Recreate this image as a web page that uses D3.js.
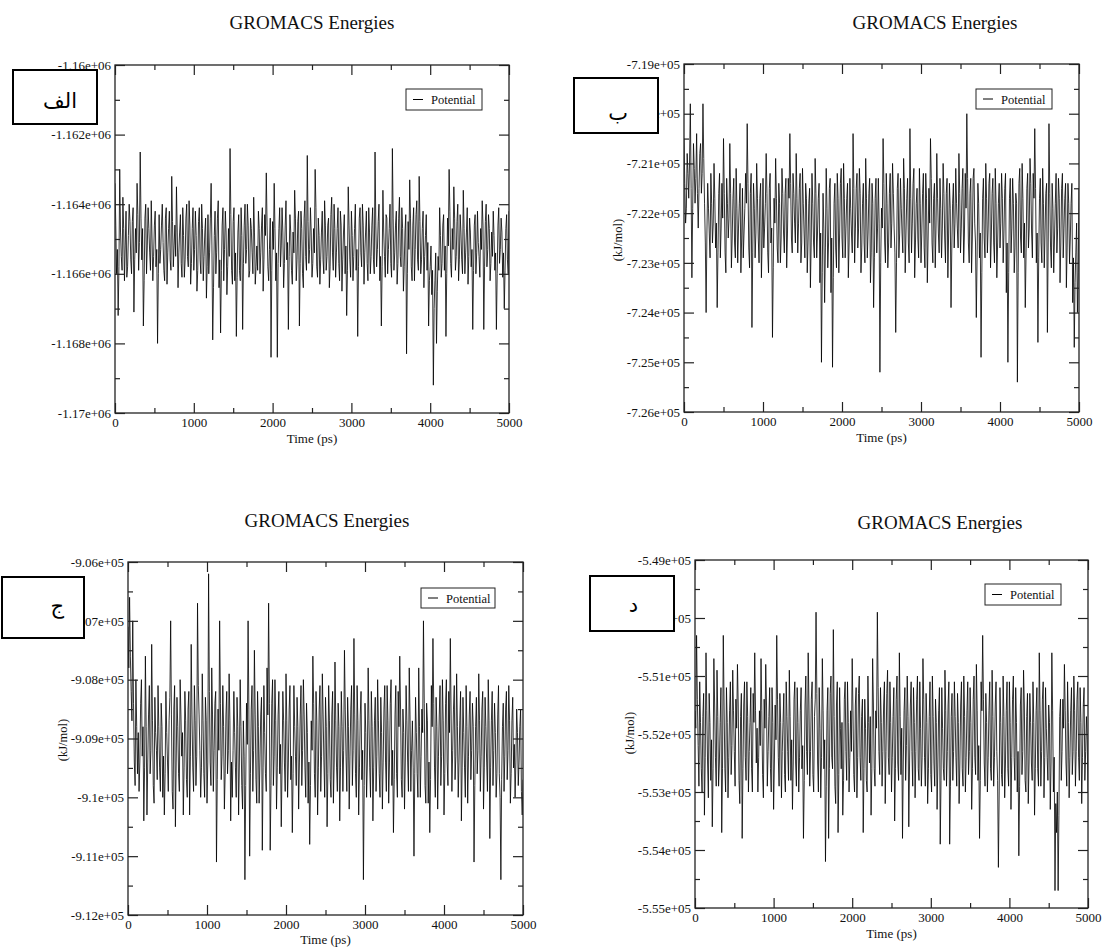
<!DOCTYPE html>
<html><head><meta charset="utf-8">
<script src="https://cdn.jsdelivr.net/npm/d3@7"></script>
<style>body{margin:0;background:#fff}svg{display:block}
text{font-family:"Liberation Serif","Times New Roman",serif}
text.tag{font-family:"DejaVu Sans","Noto Sans",sans-serif}
</style>
</head><body>
<svg id="c" width="1102" height="947"></svg>
<script>
// ---------- data ----------
const timeStepPs = 10;
const timeTicks = [0, 1000, 2000, 3000, 4000, 5000];
const timeMinorTicks = [500, 1500, 2500, 3500, 4500];

const potentialA = [
-1163400,-1164600,-1166000,-1165300,-1167200,-1165800,-1163000,-1164800,-1165500,-1165900,-1163800,-1164700,-1166200,-1165200,-1164200,-1166100,-1165800,-1164900,-1164000,-1164500,
-1165600,-1166000,-1164500,-1164100,-1167100,-1165600,-1164700,-1165400,-1163400,-1164300,-1165900,-1165100,-1162500,-1164400,-1165600,-1164700,-1167500,-1166200,-1164400,-1164000,
-1166000,-1165200,-1164100,-1164700,-1165400,-1165900,-1163900,-1165000,-1166200,-1165500,-1164600,-1164200,-1165800,-1165300,-1168000,-1166000,-1164300,-1165700,-1165300,-1164600,
-1164000,-1165100,-1165900,-1166200,-1164400,-1164100,-1166300,-1165400,-1164700,-1164200,-1165600,-1165900,-1163200,-1164500,-1165800,-1165200,-1164600,-1165500,-1163500,-1164800,
-1166400,-1165400,-1164800,-1164300,-1165700,-1166100,-1164100,-1164900,-1166100,-1165600,-1164400,-1164000,-1165500,-1165800,-1163900,-1164600,-1166300,-1165700,-1164700,-1164100,
-1165900,-1165300,-1164200,-1164900,-1166500,-1165900,-1164500,-1164100,-1165600,-1166000,-1164000,-1164700,-1166200,-1165500,-1164800,-1164400,-1166700,-1165800,-1164300,-1166000,
-1165400,-1164400,-1163400,-1165200,-1167900,-1166400,-1164900,-1164200,-1166000,-1165400,-1164400,-1163900,-1166400,-1165600,-1167700,-1165900,-1164600,-1164100,-1166200,-1165300,
-1164200,-1164800,-1166600,-1165800,-1164700,-1165500,-1162400,-1164300,-1165900,-1166300,-1164500,-1164100,-1166200,-1165400,-1167800,-1166100,-1164800,-1164300,-1165900,-1166200,
-1164100,-1164900,-1167600,-1165700,-1164600,-1164000,-1165700,-1165300,-1164000,-1164600,-1166100,-1165900,-1164400,-1164700,-1165400,-1166000,-1163800,-1164800,-1166300,-1165800,
-1165200,-1165900,-1164200,-1164700,-1166000,-1165400,-1164600,-1164100,-1166500,-1165600,-1164300,-1164900,-1163100,-1164600,-1165800,-1166200,-1165300,-1164400,-1168400,-1165900,
-1164500,-1165300,-1163400,-1164700,-1166200,-1165400,-1168400,-1165700,-1164700,-1164100,-1165800,-1165200,-1164100,-1164800,-1166400,-1165700,-1164600,-1163900,-1165600,-1165100,
-1167600,-1165500,-1164300,-1164800,-1165900,-1166300,-1164800,-1165400,-1163600,-1164400,-1166200,-1165600,-1164500,-1164200,-1167500,-1165700,-1164200,-1164700,-1166000,-1166400,
-1164400,-1163900,-1165500,-1165900,-1162600,-1164500,-1165700,-1165300,-1164100,-1164800,-1166100,-1165700,-1164700,-1165400,-1163000,-1164100,-1165800,-1166100,-1164400,-1164900,
-1166300,-1165600,-1164800,-1164200,-1165600,-1166000,-1163900,-1164600,-1165900,-1165500,-1164600,-1164400,-1166400,-1165800,-1164300,-1163800,-1165400,-1165900,-1164000,-1164700,
-1166100,-1165400,-1164700,-1164100,-1165700,-1166200,-1164200,-1164600,-1166500,-1165600,-1164800,-1164300,-1166000,-1165200,-1167200,-1165900,-1163500,-1164600,-1165600,-1166100,
-1164200,-1164900,-1166200,-1165500,-1164700,-1164000,-1165900,-1165300,-1167800,-1165800,-1164400,-1164100,-1165400,-1165800,-1164000,-1164600,-1166300,-1165400,-1164800,-1164200,
-1165700,-1166200,-1164100,-1164800,-1166000,-1165500,-1164600,-1164100,-1165600,-1166000,-1162500,-1164600,-1165800,-1165300,-1164500,-1164000,-1166200,-1165500,-1167500,-1165800,
-1163600,-1164800,-1165500,-1166100,-1164300,-1164400,-1166000,-1165300,-1164700,-1164000,-1165700,-1166100,-1162400,-1164400,-1165900,-1165400,-1164600,-1164200,-1166300,-1165700,
-1164400,-1163800,-1165500,-1165800,-1164100,-1164700,-1166500,-1165800,-1164800,-1164300,-1168300,-1166000,-1164500,-1165300,-1163300,-1164400,-1165800,-1166200,-1164600,-1164100,
-1166200,-1165300,-1164300,-1163900,-1165600,-1165900,-1163200,-1164500,-1166000,-1165600,-1164700,-1164200,-1166400,-1165500,-1164900,-1164300,-1165900,-1165100,-1167500,-1166200,
-1165800,-1165200,-1166600,-1165900,-1169200,-1167000,-1166200,-1165400,-1168000,-1166500,-1165500,-1165900,-1164100,-1164900,-1166100,-1165700,-1164600,-1164300,-1165900,-1165200,
-1167800,-1166000,-1164400,-1165200,-1163000,-1164200,-1165700,-1166100,-1164700,-1165300,-1163500,-1164400,-1165900,-1165500,-1164500,-1164000,-1166200,-1165600,-1164300,-1164800,
-1165600,-1166000,-1163600,-1164700,-1166000,-1165400,-1164800,-1164100,-1166300,-1165500,-1164400,-1164800,-1165800,-1165300,-1167600,-1165900,-1164600,-1164300,-1166000,-1165400,
-1164200,-1165100,-1165500,-1166100,-1164700,-1165300,-1163900,-1164600,-1167600,-1165800,-1164500,-1164000,-1165800,-1165300,-1164300,-1164700,-1166200,-1165700,-1164800,-1165500,
-1164200,-1164900,-1165900,-1165400,-1167600,-1166000,-1164600,-1164100,-1165700,-1165300,-1164400,-1164800,-1166100,-1165400,-1167000,-1165900,-1164700,-1164300,-1165600,-1166000,-1164200
];

const potentialB = [
-720500,-721400,-722200,-721900,-720800,-721200,-721700,-721000,-719800,-721500,-723300,-721900,-720600,-721100,-721800,-721300,-720400,-721600,-722300,-721500,
-720800,-720600,-721600,-721200,-719800,-720900,-721800,-722600,-724000,-722400,-721400,-721900,-722400,-722900,-721200,-721800,-722600,-722200,-721000,-721700,
-722700,-722200,-723900,-722800,-721600,-721200,-722900,-722300,-721400,-722100,-720500,-721600,-722800,-723200,-721300,-721800,-722500,-722100,-720600,-721600,
-723100,-722500,-721700,-721300,-722600,-722900,-721100,-721900,-723000,-722300,-721800,-721400,-723200,-722500,-721500,-722900,-722400,-721900,-721200,-721800,
-720200,-721400,-722700,-723100,-721600,-721200,-724300,-722800,-721400,-721900,-722900,-722400,-721000,-721700,-722500,-723000,-721700,-721400,-723300,-722500,
-721300,-722700,-722300,-721800,-720800,-721600,-722800,-723200,-721500,-721200,-722600,-722300,-724500,-723100,-721700,-722200,-720900,-721700,-722700,-723000,
-721400,-721800,-723000,-722500,-721100,-721600,-722400,-722800,-721600,-721300,-723100,-722400,-721300,-721700,-720400,-721400,-722500,-722800,-721200,-721600,
-722200,-722600,-720800,-721700,-722800,-722200,-721500,-721200,-723000,-722600,-721100,-721800,-722400,-722900,-721400,-721700,-723200,-722600,-721800,-721500,
-723500,-722600,-721200,-721800,-722600,-722900,-720900,-721600,-722900,-722400,-721700,-721400,-723400,-722400,-725000,-723200,-721600,-722300,-723800,-722700,
-721100,-721900,-723100,-722600,-721500,-721300,-723600,-722500,-725100,-723300,-721800,-721400,-722700,-723100,-721200,-721700,-723200,-722400,-721400,-721100,
-722500,-722900,-721000,-721700,-722900,-722300,-721700,-721400,-723300,-722600,-721300,-721900,-722400,-722800,-720400,-721500,-723000,-722300,-721500,-721200,
-722700,-722300,-721100,-721600,-723200,-722700,-721800,-721400,-722600,-723000,-720900,-721700,-722900,-722400,-721600,-721300,-723400,-722800,-721400,-721800,
-723900,-722900,-721700,-721300,-722800,-722300,-721300,-722200,-725200,-723000,-721900,-722300,-720500,-721400,-722600,-723000,-721200,-721800,-723100,-722600,
-721600,-721200,-722700,-722200,-721000,-721600,-722300,-722800,-724400,-723000,-721500,-721200,-722900,-722400,-721300,-721900,-722400,-722800,-720900,-721500,
-723200,-722400,-721700,-721300,-722600,-723000,-720300,-721700,-722800,-722200,-721400,-721100,-723300,-722600,-721800,-721500,-722500,-722900,-721100,-721800,
-723000,-722400,-721600,-721200,-722700,-723100,-721200,-721700,-723400,-722500,-721500,-722200,-720500,-721300,-722600,-723000,-721700,-721400,-723100,-722300,
-720800,-721700,-722400,-722800,-721300,-721900,-722900,-722300,-721000,-721600,-722500,-723000,-721600,-721300,-723300,-722400,-721400,-721900,-723900,-722700,
-721800,-721400,-722700,-722200,-721100,-721800,-722300,-722700,-720800,-721600,-722800,-722300,-721500,-721100,-723000,-722400,-721200,-721900,-720000,-721300,
-722600,-723000,-721600,-721300,-723200,-722500,-721300,-721100,-722200,-722600,-724100,-722900,-721400,-721800,-722900,-722400,-724900,-723200,-721700,-721300,
-722500,-722900,-721000,-721700,-722800,-722300,-721400,-721200,-723100,-722500,-721600,-721300,-722600,-723000,-721100,-721800,-723300,-722600,-721800,-721400,
-722700,-722200,-721200,-721700,-723000,-722400,-721500,-721200,-723600,-722600,-725000,-723200,-721700,-721300,-722800,-722300,-721300,-721800,-723200,-722700,
-721600,-721800,-725400,-723200,-721400,-721100,-722500,-722800,-721000,-721700,-722900,-722200,-723900,-722800,-721500,-721200,-722700,-722300,-720900,-721400,
-722400,-722900,-721200,-721700,-720300,-721500,-723000,-722400,-724600,-722900,-721700,-721300,-722600,-723000,-721100,-721800,-723100,-722400,-721600,-721400,
-724400,-722600,-720200,-721600,-722700,-723100,-721400,-721900,-723200,-722500,-721800,-721200,-722800,-722300,-721300,-721700,-723400,-722600,-721500,-721200,
-722900,-722300,-721700,-721400,-723500,-722700,-721400,-721800,-723000,-722500,-721800,-721400,-723800,-722900,-724700,-723400,-722800,-722200,-724000,-723200,-721500
];

const potentialC = [
-907100,-907800,-906600,-907600,-908200,-908700,-907000,-908400,-909400,-909800,-908000,-908800,-909600,-908900,-909900,-909400,-908400,-908000,-909300,-908800,
-910400,-909500,-907600,-908800,-910300,-909400,-908600,-908100,-909600,-909200,-907400,-908700,-909800,-910100,-908300,-908900,-909200,-909700,-908100,-908800,
-909500,-909900,-908400,-908800,-910000,-909300,-910300,-909600,-908200,-908900,-909400,-909900,-908700,-908300,-907000,-908600,-909900,-910200,-908500,-908100,
-910500,-909400,-908300,-908800,-909600,-909900,-908000,-908600,-909300,-908900,-910300,-909500,-908200,-908700,-909700,-910000,-908500,-908200,-910300,-909300,
-907400,-908600,-909500,-909900,-908100,-908700,-909800,-909300,-906700,-908100,-908600,-909200,-910000,-909500,-907900,-908700,-909600,-910000,-908300,-908700,
-910100,-909400,-906200,-908200,-909400,-909800,-907800,-908600,-909900,-909200,-908400,-908200,-911100,-909700,-908500,-909200,-907000,-908400,-909700,-909300,
-908100,-908800,-910200,-909600,-908600,-908200,-909600,-909200,-907900,-908700,-910400,-909400,-910000,-909200,-908200,-908900,-909500,-910000,-908300,-908800,
-910300,-909400,-908000,-908800,-909800,-910200,-908700,-909300,-911400,-909800,-908400,-909100,-907000,-908500,-911000,-909600,-908500,-908100,-909900,-909200,
-907500,-908600,-909700,-910100,-908200,-908800,-910100,-909400,-908600,-908300,-910900,-909500,-908100,-908900,-909600,-909900,-907800,-908600,-906700,-908400,
-910900,-909800,-908400,-908000,-909800,-909300,-908000,-908700,-910200,-909500,-908600,-908200,-909600,-909100,-910500,-909500,-908200,-908700,-909400,-909900,
-907900,-908700,-910000,-909400,-908500,-908100,-909700,-909300,-910600,-909600,-908100,-908800,-909300,-909800,-908300,-908800,-910200,-909400,-908600,-908100,
-909800,-909200,-908000,-908600,-909500,-910000,-908400,-908900,-910100,-909400,-910800,-909800,-908700,-909200,-907600,-908400,-909600,-910000,-908200,-908700,
-910300,-909500,-908500,-908100,-909900,-909300,-907900,-908600,-909400,-910000,-908300,-908800,-910500,-909600,-908100,-908700,-909700,-910000,-908600,-908200,
-910100,-909400,-907700,-908700,-909500,-909900,-908400,-908800,-910400,-909500,-908200,-908800,-909900,-909200,-907500,-908500,-909300,-909900,-908300,-908800,
-910200,-909300,-908500,-908100,-909800,-909200,-907300,-908600,-909600,-910000,-908100,-908700,-910300,-909500,-908600,-908200,-909700,-909200,-911400,-909800,
-908400,-908900,-910000,-909400,-907800,-908700,-909500,-910000,-908200,-908800,-910400,-909500,-908700,-908300,-909900,-909300,-908000,-908700,-909600,-910000,
-908300,-908900,-910200,-909400,-908500,-908100,-909400,-909900,-908100,-908700,-910100,-909400,-908400,-908000,-909800,-909200,-910600,-909700,-908600,-908100,
-909600,-910000,-908200,-908800,-907600,-908500,-909700,-910000,-908500,-908900,-910200,-909400,-908100,-908700,-909400,-909900,-907800,-908600,-909900,-909200,
-908700,-909500,-911000,-909600,-908300,-908900,-909600,-910000,-907800,-908800,-910000,-909300,-908500,-908900,-907000,-908400,-909800,-910100,-908400,-908700,
-910100,-909400,-910600,-909700,-908100,-908800,-907300,-908400,-909500,-910000,-908300,-908800,-910200,-909300,-908600,-908100,-909800,-909300,-908000,-908700,
-910300,-909600,-908400,-908000,-909400,-909800,-908200,-908900,-907300,-908600,-909900,-909200,-908500,-908100,-909700,-909300,-907900,-908800,-910000,-909400,
-908700,-908200,-910400,-909500,-908300,-908900,-909500,-910000,-908100,-908800,-910100,-909300,-908600,-908200,-909700,-909200,-908400,-908800,-911100,-909800,
-908800,-908300,-909600,-909200,-907900,-908700,-909900,-909300,-908500,-908200,-910200,-909500,-908300,-908800,-909400,-909900,-908000,-908700,-910700,-909500,
-908700,-908200,-909800,-909200,-908400,-908900,-910000,-909600,-908600,-908100,-909600,-910000,-911400,-909700,-908800,-908400,-909900,-909300,-908500,-908200,
-909700,-909200,-908100,-908700,-910100,-909600,-908700,-908300,-909500,-909100,-910000,-909400,-908500,-908900,-909800,-909400,-908800,-908500,-909900,-910300,-909700
];

const potentialD = [
-551600,-551900,-550300,-551400,-552200,-552900,-551100,-551800,-552600,-553000,-551700,-551300,-553400,-552400,-550600,-551600,-552500,-553100,-551300,-551800,
-552800,-552100,-553600,-552600,-550700,-551500,-552400,-552900,-550900,-551700,-552900,-552500,-551800,-551200,-553700,-552600,-550300,-551500,-552600,-553000,
-551200,-551800,-553100,-552400,-551600,-551100,-552700,-552200,-550900,-551600,-552300,-552900,-551400,-551900,-550800,-551500,-552800,-553200,-551700,-551300,
-553800,-552600,-551500,-551100,-552400,-552800,-551100,-551700,-553000,-552300,-551800,-551200,-552600,-553000,-551300,-551800,-550600,-551600,-552500,-551900,
-553000,-552400,-551600,-552200,-550700,-551600,-552700,-553100,-551400,-551900,-550800,-551500,-552900,-552300,-551700,-551200,-552600,-553000,-551200,-551800,
-553300,-552500,-551500,-552100,-550300,-551400,-552400,-552900,-551300,-551800,-553100,-552300,-551800,-551300,-552700,-553000,-551100,-551700,-552300,-552800,
-550900,-551700,-552800,-552100,-553300,-552500,-551400,-551100,-552500,-552900,-551200,-551800,-553000,-552400,-551600,-551200,-552600,-552200,-553800,-552800,
-551500,-551000,-552300,-552700,-550600,-551500,-552900,-552300,-551400,-551100,-552700,-553000,-551700,-551400,-549900,-551300,-552500,-553000,-551200,-551900,
-553100,-552400,-550700,-551600,-552600,-552100,-554200,-552900,-551600,-551200,-553800,-552600,-551300,-551000,-552400,-552600,-550200,-551700,-552900,-553200,
-551500,-551100,-553700,-552700,-551200,-551900,-552600,-551800,-553400,-552800,-551400,-551100,-552300,-552800,-551100,-551800,-553000,-552400,-551600,-552300,
-550700,-551600,-552700,-553000,-551500,-551200,-553100,-552400,-551300,-551000,-552400,-552800,-551700,-551400,-553700,-552600,-551400,-551900,-552800,-553000,
-551000,-551800,-552500,-551700,-553400,-552600,-550700,-551500,-552600,-552900,-551600,-551900,-549900,-551200,-552300,-552700,-551200,-551800,-552900,-552300,
-551500,-551100,-553200,-552300,-551300,-550900,-552400,-552700,-551100,-551800,-553000,-552400,-551700,-551200,-553500,-552600,-551400,-551000,-552500,-552800,
-550600,-551700,-552700,-551900,-553800,-552500,-551600,-551200,-552800,-552200,-551000,-551700,-553600,-552500,-551500,-551100,-552300,-552900,-551200,-551800,
-553100,-552300,-551400,-551000,-552600,-552800,-551100,-551900,-552900,-552400,-550700,-551400,-552400,-552900,-551300,-551800,-553200,-552600,-551700,-551100,
-552700,-553000,-551000,-551700,-552500,-552900,-551400,-551800,-553300,-552500,-551600,-551200,-553900,-552800,-551200,-551900,-552600,-552800,-550900,-551600,
-552900,-552300,-551500,-551100,-553900,-552900,-551700,-551300,-552800,-552300,-551100,-551700,-552400,-552900,-551300,-551800,-553200,-552500,-551500,-551100,
-552600,-552900,-551000,-551700,-553000,-552400,-551600,-551100,-552700,-552300,-551200,-551800,-553300,-552600,-551400,-551000,-552400,-552700,-550800,-551600,
-552800,-552200,-553800,-552800,-551100,-551600,-550300,-551400,-552500,-552900,-551300,-551800,-553000,-552400,-551600,-551100,-552600,-552800,-550900,-551700,
-552900,-552400,-551500,-551100,-552300,-552800,-554300,-553000,-551200,-551800,-552700,-552900,-551000,-551700,-553100,-552500,-551600,-551100,-552600,-552900,
-551100,-551800,-553300,-552400,-551400,-551000,-552400,-552800,-551200,-551800,-553000,-552300,-554100,-552900,-551500,-551200,-552700,-552300,-550900,-551500,
-552800,-553000,-551700,-551300,-553200,-552500,-551300,-551800,-552500,-552800,-551100,-551800,-553400,-552600,-551600,-551200,-552600,-552900,-550600,-551600,
-552900,-552300,-551400,-551100,-553100,-552400,-551200,-551900,-552400,-552800,-551500,-551800,-553300,-552500,-550600,-551600,-553000,-552400,-554700,-553200,
-553700,-553000,-554700,-553400,-551700,-551400,-552800,-552300,-551400,-551900,-550800,-551600,-552500,-552900,-551100,-551800,-553100,-552400,-551600,-551200,
-552700,-552300,-551000,-551600,-552900,-552300,-551400,-551100,-552400,-552800,-551200,-551800,-553200,-552400,-551500,-551200,-552800,-552300,-551700,-552100,-553000
];

const yTicksA = [-1170000,-1168000,-1166000,-1164000,-1162000,-1160000];
const yLabelsA = ["-1.17e+06","-1.168e+06","-1.166e+06","-1.164e+06","-1.162e+06","-1.16e+06"];
const yMinorA = [-1169000,-1167000,-1165000,-1163000,-1161000];

const yTicksB = [-726000,-725000,-724000,-723000,-722000,-721000,-720000,-719000];
const yLabelsB = ["-7.26e+05","-7.25e+05","-7.24e+05","-7.23e+05","-7.22e+05","-7.21e+05","-7.2e+05","-7.19e+05"];
const yMinorB = [-725500,-724500,-723500,-722500,-721500,-720500,-719500];

const yTicksC = [-912000,-911000,-910000,-909000,-908000,-907000,-906000];
const yLabelsC = ["-9.12e+05","-9.11e+05","-9.1e+05","-9.09e+05","-9.08e+05","-9.07e+05","-9.06e+05"];
const yMinorC = [-911500,-910500,-909500,-908500,-907500,-906500];

const yTicksD = [-555000,-554000,-553000,-552000,-551000,-550000,-549000];
const yLabelsD = ["-5.55e+05","-5.54e+05","-5.53e+05","-5.52e+05","-5.51e+05","-5.5e+05","-5.49e+05"];
const yMinorD = [-554500,-553500,-552500,-551500,-550500,-549500];

const panelTags = ["الف", "ب", "ج", "د"];
const chartTitle = "GROMACS Energies";
const xTitle = "Time (ps)";
const yTitle = "(kJ/mol)";
const seriesName = "Potential";

// ---------- layout ----------
const panels = [
  {data: potentialA, ticks: yTicksA, labels: yLabelsA, minor: yMinorA, domain: [-1170000,-1160000],
   l:115, r:509, t:65, b:413, title:[312,29], legend:[406,89,76,21], ytitle:null,
   tagBox:[13,70,84,54], tagText:[77,108], xtitle:30},
  {data: potentialB, ticks: yTicksB, labels: yLabelsB, minor: yMinorB, domain: [-726000,-719000],
   l:684, r:1079, t:64, b:412, title:[935,29], legend:[976,89,76,20], ytitle:[618,240],
   tagBox:[574,78,84,55], tagText:[628,120], xtitle:30},
  {data: potentialC, ticks: yTicksC, labels: yLabelsC, minor: yMinorC, domain: [-912000,-906000],
   l:128, r:523, t:562, b:915, title:[327,527], legend:[421,588,74,20], ytitle:[63,740],
   tagBox:[2,577,82,61], tagText:[64,613], xtitle:29},
  {data: potentialD, ticks: yTicksD, labels: yLabelsD, minor: yMinorD, domain: [-555000,-549000],
   l:695, r:1088, t:560, b:908, title:[940,529], legend:[985,584,76,21], ytitle:[630,733],
   tagBox:[590,576,84,55], tagText:[638,612], xtitle:30}
];

const svg = d3.select("#c");
const serif = '"Liberation Serif", "Times New Roman", serif';
const axisCol = "#222";

panels.forEach((p, k) => {
  const x = d3.scaleLinear().domain([0, 5000]).range([p.l, p.r]);
  const y = d3.scaleLinear().domain(p.domain).range([p.b, p.t]);
  const g = svg.append("g");

  g.append("clipPath").attr("id", "clip" + k).append("rect")
    .attr("x", p.l).attr("y", p.t).attr("width", p.r - p.l).attr("height", p.b - p.t);

  const line = d3.line().x((d, i) => x(i * timeStepPs)).y(d => y(d));
  g.append("path").datum(p.data).attr("d", line)
    .attr("fill", "none").attr("stroke", "#000").attr("stroke-width", 0.8)
    .attr("clip-path", `url(#clip${k})`);

  g.append("rect").attr("x", p.l).attr("y", p.t).attr("width", p.r - p.l).attr("height", p.b - p.t)
    .attr("fill", "none").attr("stroke", axisCol).attr("stroke-width", 1.3);

  const style = sel => {
    sel.attr("font-family", null).attr("font-size", null);
    sel.select(".domain").remove();
    sel.selectAll(".tick line").attr("stroke", axisCol).attr("stroke-width", 1.2);
    sel.selectAll("text").style("font-family", serif).style("font-size", "13px").attr("fill", "#111");
  };

  g.append("g").attr("transform", `translate(0,${p.b})`)
    .call(d3.axisBottom(x).tickValues(timeTicks).tickSize(-10).tickPadding(5).tickFormat(d3.format("d")))
    .call(style);
  g.append("g").attr("transform", `translate(0,${p.b})`)
    .call(d3.axisBottom(x).tickValues(timeMinorTicks).tickSize(-5).tickFormat(""))
    .call(style);
  g.append("g").attr("transform", `translate(0,${p.t})`)
    .call(d3.axisTop(x).tickValues(timeTicks).tickSize(-10).tickFormat(""))
    .call(style);
  g.append("g").attr("transform", `translate(0,${p.t})`)
    .call(d3.axisTop(x).tickValues(timeMinorTicks).tickSize(-5).tickFormat(""))
    .call(style);
  g.append("g").attr("transform", `translate(${p.l},0)`)
    .call(d3.axisLeft(y).tickValues(p.ticks).tickSize(-10).tickPadding(4)
      .tickFormat((d, i) => p.labels[i]))
    .call(style);
  g.append("g").attr("transform", `translate(${p.l},0)`)
    .call(d3.axisLeft(y).tickValues(p.minor).tickSize(-5).tickFormat(""))
    .call(style);
  g.append("g").attr("transform", `translate(${p.r},0)`)
    .call(d3.axisRight(y).tickValues(p.ticks).tickSize(-10).tickFormat(""))
    .call(style);
  g.append("g").attr("transform", `translate(${p.r},0)`)
    .call(d3.axisRight(y).tickValues(p.minor).tickSize(-5).tickFormat(""))
    .call(style);

  g.append("text").attr("x", p.title[0]).attr("y", p.title[1]).attr("text-anchor", "middle")
    .style("font-family", serif).style("font-size", "19px").attr("fill", "#111").text(chartTitle);
  g.append("text").attr("x", (p.l + p.r) / 2).attr("y", p.b + p.xtitle).attr("text-anchor", "middle")
    .style("font-family", serif).style("font-size", "13px").attr("fill", "#111").text(xTitle);
  if (p.ytitle) {
    g.append("text").attr("transform", `translate(${p.ytitle[0]},${p.ytitle[1]}) rotate(-90)`)
      .attr("text-anchor", "middle").attr("dy", "0.35em")
      .style("font-family", serif).style("font-size", "12.5px").attr("fill", "#111").text(yTitle);
  }

  const [lx, ly, lw, lh] = p.legend;
  g.append("rect").attr("x", lx).attr("y", ly).attr("width", lw).attr("height", lh)
    .attr("fill", "#fff").attr("stroke", axisCol).attr("stroke-width", 1);
  g.append("line").attr("x1", lx + 7).attr("x2", lx + 17).attr("y1", ly + lh / 2).attr("y2", ly + lh / 2)
    .attr("stroke", "#000").attr("stroke-width", 1);
  g.append("text").attr("x", lx + 25).attr("y", ly + lh / 2 + 4.5)
    .style("font-family", serif).style("font-size", "12.5px").attr("fill", "#111").text(seriesName);

  const [bx, by, bw, bh] = p.tagBox;
  svg.append("rect").attr("x", bx).attr("y", by).attr("width", bw).attr("height", bh)
    .attr("fill", "#fff").attr("stroke", "#000").attr("stroke-width", 2);
  svg.append("text").attr("class", "tag").attr("x", p.tagText[0]).attr("y", p.tagText[1])
    .attr("text-anchor", "end").style("font-size", "21px")
    .attr("fill", "#000").text(panelTags[k]);
});
</script>
</body></html>
